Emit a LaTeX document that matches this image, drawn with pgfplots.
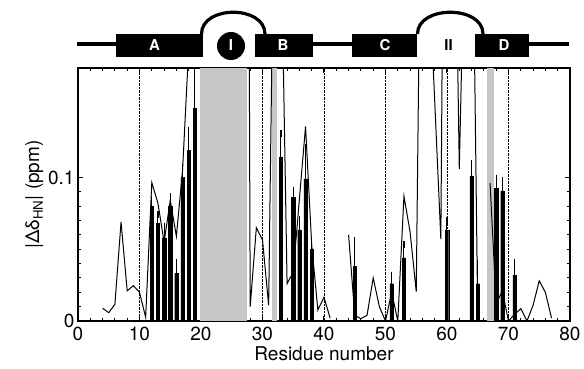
\documentclass[border=0pt]{standalone}
\usepackage{fontspec}
\setmainfont{TeX Gyre Heros}
\usepackage{pgfplots}
\pgfplotsset{compat=1.18}
\begin{document}
\begin{tikzpicture}
\useasboundingbox (0pt,0pt) rectangle (584pt,368pt);
% domain diagram
\begin{scope}[x=1pt,y=1pt]
\draw[line width=4.5] (77,324) -- (116,324);
\draw[line width=4.5] (312,324) -- (352,324);
\draw[line width=4.5] (528,324) -- (569,324);
\fill (116,311.5) rectangle (203,334.5);
\fill (255,311.5) rectangle (312.6,334.5);
\fill (351.7,311.5) rectangle (416.8,334.5);
\fill (474.5,311.5) rectangle (528.5,334.5);
\fill (231,322) circle (14);
\draw[line width=3.2] (201.5,334) .. controls (201.5,363) and (265,363) .. (265,334);
\draw[line width=3.2] (417.5,334) .. controls (417.5,363) and (483,363) .. (483,334);
\begin{scope}[every node/.style={font=\bfseries\fontsize{15}{15}\selectfont}]
\node[white] at (154.5,322.5) {A};
\node[white] at (231,322.5) {I};
\node[white] at (283,322.5) {B};
\node[white] at (385,322.5) {C};
\node[black] at (448.5,322.5) {II};
\node[white] at (504,322.5) {D};
\end{scope}
\end{scope}
\begin{axis}[
  at={(78pt,47pt)}, anchor=south west, scale only axis,
  width=492pt, height=253pt,
  xmin=0, xmax=80, ymin=0, ymax=0.1763,
  xtick={0,10,...,80}, minor x tick num=4,
  ytick={0,0.1}, yticklabels={0,0.1}, minor y tick num=9,
  scaled y ticks=false,
  tick align=inside,
  major tick length=5pt, minor tick length=3pt,
  axis line style={line width=1.3pt},
  every tick/.style={black, line width=1pt},
  xmajorgrids, major x grid style={black, densely dotted, line width=0.7pt},
  tick label style={font=\fontsize{19}{19}\selectfont},
  label style={font=\fontsize{19}{19}\selectfont},
  xticklabel style={yshift=-2pt},
  /pgf/number format/assume math mode=true,
  xlabel={Residue number},
  xlabel style={yshift=1pt},
  ylabel={|Δδ\textsubscript{HN}| (ppm)},
  ylabel style={yshift=-2pt},
  clip=true,
]
% shaded regions
\addplot[draw=none, fill=gray!45] coordinates {(19.8,1)(27.4,1)} \closedcycle;
\addplot[draw=none, fill=gray!45] coordinates {(31.5,1)(32.4,1)} \closedcycle;
\addplot[draw=none, fill=gray!45] coordinates {(66.5,1)(67.6,1)} \closedcycle;
% line
\addplot[black, line width=1pt] coordinates {(4,0.0089)(5,0.0058)(6,0.0116)(7,0.069)(8,0.021)(9,0.0246)(10,0.020)(11,0.0026)(12,0.0965)(13,0.082)(14,0.055)(15,0.084)(16,0.059)(17,0.105)(18,0.19)(19,0.25)};
\addplot[black, line width=1pt] coordinates {(27,1.2)(28,0.010)(29,0.065)(30,0.0565)(31,0.011)(32,0.34)(33,0.276)(34,0.026)(35,0.034)(36,0.085)(37,0.1356)(38,0.053)(39,0.0077)(40,0.0165)(41,0.002)};
\addplot[black, line width=1pt] coordinates {(44,0.060)(45,0.004)(46,0.0016)(47,0.004)(48,0.030)(49,0.010)(50,0.0)(51,0.02)(52,0.0)(53,0.087)(54,0.062)(55,0.0205)(56,0.41)(57,0.25)(59,0.057)(60,0.65)(61,0.39)(62,0.106)(63,0.3)(64,0.35)(65,0.003)};
\addplot[black, line width=1pt] coordinates {(67,0.096)(68,0.012)(69,0.021)(70,0.0)(71,0.0047)(72,0.0086)(73,0.0)(74,0.011)(75,0.028)(76,0.020)(77,0.002)};
% bars
\addplot[ybar, bar width=0.55, bar shift=0pt, fill=black, draw=black, line width=0.3pt,
  error bars/.cd, y dir=both, y explicit,
  error bar style={line width=1pt, black},
  error mark options={black, line width=1.2pt, mark size=3.5pt}]
coordinates {
(12,0.080) +- (0,0.005)
(13,0.068) +- (0,0.006)
(14,0.058) +- (0,0.008)
(15,0.080) +- (0,0.0065)
(16,0.033) +- (0,0.008)
(17,0.100) +- (0,0.007)
(18,0.119) +- (0,0.014)
(19,0.148) +- (0,0.027)
(33,0.114) +- (0,0.017)
(35,0.086) +- (0,0.005)
(36,0.0635) +- (0,0.007)
(37,0.099) +- (0,0.022)
(38,0.050) +- (0,0.005)
(45,0.038) +- (0,0.018)
(51,0.026) +- (0,0.006)
(53,0.044) +- (0,0.009)
(60,0.0633) +- (0,0.007)
(64,0.1006) +- (0,0.009)
(65,0.026) +- (0,0.014)
(68,0.0926) +- (0,0.007)
(69,0.0907) +- (0,0.0075)
(71,0.032) +- (0,0.009)
};
\end{axis}
\end{tikzpicture}
\end{document}
